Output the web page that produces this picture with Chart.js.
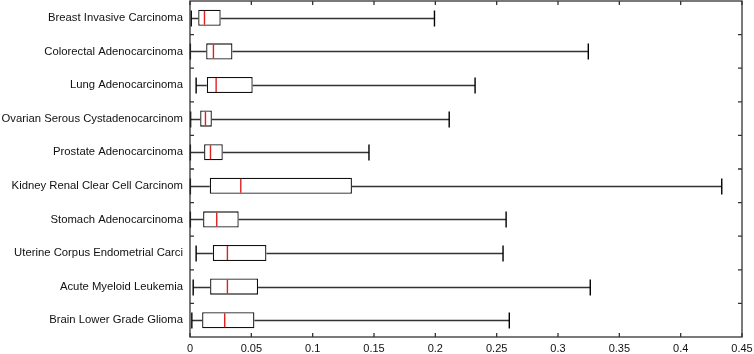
<!DOCTYPE html>
<html>
<head>
<meta charset="utf-8">
<script src="https://cdn.jsdelivr.net/npm/chart.js@4/dist/chart.umd.min.js"></script>
<style>
  body { margin: 0; background: #fff; }
</style>
</head>
<body>
<canvas id="chart" width="754" height="354"></canvas>
<script>
const categories = [
  "Breast Invasive Carcinoma",
  "Colorectal Adenocarcinoma",
  "Lung Adenocarcinoma",
  "Ovarian Serous Cystadenocarcinom",
  "Prostate Adenocarcinoma",
  "Kidney Renal Clear Cell Carcinom",
  "Stomach Adenocarcinoma",
  "Uterine Corpus Endometrial Carci",
  "Acute Myeloid Leukemia",
  "Brain Lower Grade Glioma"
];
const whiskerLow  = [0.001, 0.0003, 0.005, 0.0005, 0.0003, 0.0003, 0.0003, 0.005, 0.0026, 0.0015];
const q1          = [0.0067, 0.0132, 0.0137, 0.0083, 0.0115, 0.0161, 0.0107, 0.0186, 0.0164, 0.0099];
const median      = [0.0118, 0.0191, 0.0213, 0.0126, 0.0167, 0.0414, 0.0218, 0.0305, 0.0305, 0.0283];
const q3          = [0.025, 0.0346, 0.0511, 0.0178, 0.0267, 0.132, 0.0397, 0.0623, 0.0555, 0.0525];
const whiskerHigh = [0.1993, 0.3247, 0.2324, 0.2113, 0.1459, 0.4335, 0.2577, 0.2552, 0.3263, 0.2603];
const xTicks = [0, 0.05, 0.1, 0.15, 0.2, 0.25, 0.3, 0.35, 0.4, 0.45];

const boxHalf = 8; // half height of box/caps in px

// whiskers, caps and medians drawn from the chart's own scales
const boxParts = {
  id: 'boxParts',
  beforeDatasetsDraw(chart) {
    const { ctx, scales: { x, y } } = chart;
    ctx.save();
    ctx.lineWidth = 1.4;
    categories.forEach((c, i) => {
      const py = Math.round(y.getPixelForValue(i)) + 0.5;
      const lo = x.getPixelForValue(whiskerLow[i]);
      const hi = x.getPixelForValue(whiskerHigh[i]);
      ctx.strokeStyle = '#333';
      ctx.beginPath();
      ctx.moveTo(lo, py); ctx.lineTo(x.getPixelForValue(q1[i]), py);
      ctx.moveTo(x.getPixelForValue(q3[i]), py); ctx.lineTo(hi, py);
      ctx.stroke();
      ctx.strokeStyle = '#000';
      ctx.beginPath();
      ctx.moveTo(lo, py - boxHalf); ctx.lineTo(lo, py + boxHalf);
      ctx.moveTo(hi, py - boxHalf); ctx.lineTo(hi, py + boxHalf);
      ctx.stroke();
    });
    ctx.restore();
  },
  afterDatasetsDraw(chart) {
    const { ctx, scales: { x, y }, chartArea } = chart;
    ctx.save();
    ctx.strokeStyle = '#e02020';
    ctx.lineWidth = 1.4;
    categories.forEach((c, i) => {
      const py = y.getPixelForValue(i);
      const mx = x.getPixelForValue(median[i]);
      ctx.beginPath();
      ctx.moveTo(mx, py - boxHalf + 1); ctx.lineTo(mx, py + boxHalf - 1);
      ctx.stroke();
    });
    // frame
    const { left, right, top, bottom } = chartArea;
    ctx.strokeStyle = '#333';
    ctx.lineWidth = 1.3;
    ctx.strokeRect(left, top, right - left, bottom - top);
    // inner ticks
    ctx.beginPath();
    xTicks.forEach(v => {
      const px = x.getPixelForValue(v);
      ctx.moveTo(px, bottom); ctx.lineTo(px, bottom - 4);
      ctx.moveTo(px, top); ctx.lineTo(px, top + 4);
    });
    for (let i = 1; i < categories.length; i++) {
      const py = (y.getPixelForValue(i - 1) + y.getPixelForValue(i)) / 2;
      ctx.moveTo(left, py); ctx.lineTo(left + 4, py);
      ctx.moveTo(right, py); ctx.lineTo(right - 4, py);
    }
    ctx.stroke();
    ctx.restore();
  }
};

new Chart(document.getElementById('chart'), {
  type: 'bar',
  data: {
    labels: categories,
    datasets: [{
      data: q1.map((v, i) => [v, q3[i]]),
      backgroundColor: '#fff',
      borderColor: '#111',
      borderWidth: 1.3,
      borderSkipped: false,
      barPercentage: 0.48,
      categoryPercentage: 1
    }]
  },
  options: {
    indexAxis: 'y',
    responsive: false,
    animation: false,
    layout: { padding: { top: 1, right: 12, left: 0, bottom: 0 } },
    plugins: { legend: { display: false }, tooltip: { enabled: false } },
    scales: {
      x: {
        min: 0, max: 0.45,
        afterBuildTicks: s => { s.ticks = xTicks.map(v => ({ value: v })); },
        afterFit: s => { s.height = 17; s.paddingLeft = 0; s.paddingRight = 0; },
        grid: { display: false, drawTicks: false },
        border: { display: false },
        ticks: {
          padding: 5,
          color: '#111',
          font: { family: 'Liberation Sans, Arial', size: 11 },
          callback: v => String(+Number(v).toFixed(2))
        }
      },
      y: {
        offset: true,
        afterFit: s => { s.width = 190; s.paddingTop = 0; s.paddingBottom = 0; },
        grid: { display: false, drawTicks: false },
        border: { display: false },
        ticks: {
          padding: 7,
          color: '#111',
          font: { family: 'Liberation Sans, Arial', size: 11.3 }
        }
      }
    }
  },
  plugins: [boxParts]
});
</script>
</body>
</html>
